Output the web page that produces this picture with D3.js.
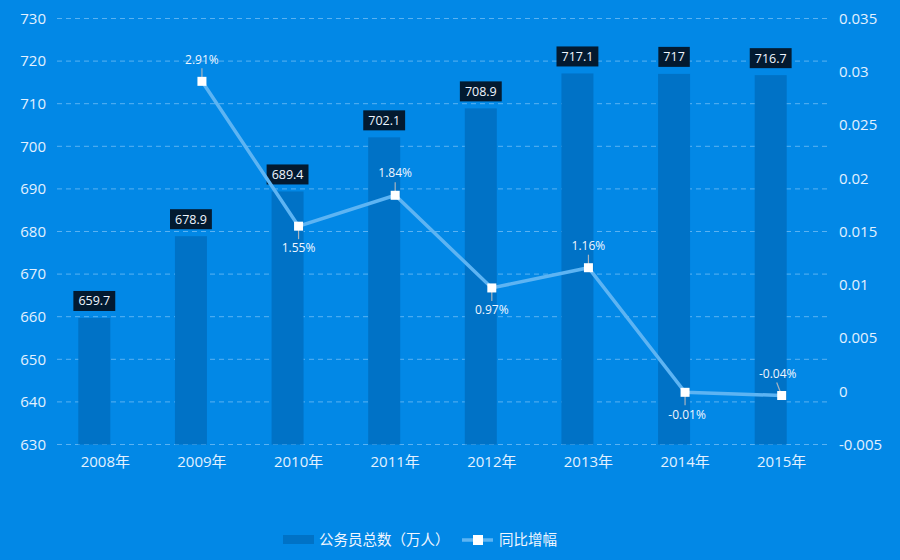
<!DOCTYPE html>
<html lang="zh">
<head>
<meta charset="UTF-8">
<title>公务员总数</title>
<script src="https://d3js.org/d3.v7.min.js"></script>
<style>
  body { margin: 0; background: #0288e6; }
  svg { display: block; font-family: "Open Sans", "Noto Sans CJK SC", sans-serif; }
  .grid line { stroke: #5ab2f2; stroke-dasharray: 5,4; stroke-width: 1; }
  .tick text { fill: #e3f1ff; font-size: 15px; font-family: "Open Sans", "Noto Sans CJK SC", sans-serif; }
</style>
</head>
<body>
<div id="chart"></div>
<script>
  const years = ["2008年", "2009年", "2010年", "2011年", "2012年", "2013年", "2014年", "2015年"];
  const totals = [659.7, 678.9, 689.4, 702.1, 708.9, 717.1, 717, 716.7];
  const growth = [null, 0.0291, 0.0155, 0.0184, 0.0097, 0.0116, -0.0001, -0.0004];
  const growthLabels = [null, "2.91%", "1.55%", "1.84%", "0.97%", "1.16%", "-0.01%", "-0.04%"];
  const leftTicks = [630, 640, 650, 660, 670, 680, 690, 700, 710, 720, 730];
  const rightTicks = [-0.005, 0, 0.005, 0.01, 0.015, 0.02, 0.025, 0.03, 0.035];
  // label above (-1) or below (1) the point
  const labelSide = [0, -1, 1, -1, 1, -1, 1, -1];

  const width = 900, height = 560;
  const margin = { top: 18.5, right: 70, bottom: 115.5, left: 57 };
  const innerW = width - margin.left - margin.right;
  const innerH = height - margin.top - margin.bottom;

  const svg = d3.select("#chart").append("svg")
    .attr("width", width)
    .attr("height", height);

  svg.append("rect").attr("width", width).attr("height", height).attr("fill", "#0288e6");

  const g = svg.append("g")
    .attr("transform", "translate(" + margin.left + "," + margin.top + ")");

  const x = d3.scaleBand().domain(years).range([0, innerW]);
  const yL = d3.scaleLinear().domain([630, 730]).range([innerH, 0]);
  const yR = d3.scaleLinear().domain([-0.005, 0.035]).range([innerH, 0]);

  // grid lines
  g.append("g")
    .attr("class", "grid")
    .selectAll("line")
    .data(leftTicks)
    .enter().append("line")
    .attr("x1", 0)
    .attr("x2", innerW)
    .attr("y1", d => yL(d))
    .attr("y2", d => yL(d));

  // axes
  const axL = g.append("g")
    .call(d3.axisLeft(yL).tickValues(leftTicks).tickSize(0).tickPadding(11));
  axL.select(".domain").remove();

  const axR = g.append("g")
    .attr("transform", "translate(" + innerW + ",0)")
    .call(d3.axisRight(yR).tickValues(rightTicks).tickSize(0).tickPadding(9).tickFormat(d => String(+d.toFixed(3))));
  axR.select(".domain").remove();

  const axB = g.append("g")
    .attr("transform", "translate(0," + innerH + ")")
    .call(d3.axisBottom(x).tickSize(0).tickPadding(12));
  axB.select(".domain").remove();

  // bars (shifted left of the category centre)
  const barW = 32;
  const barOff = -27;
  g.selectAll(".bar")
    .data(totals)
    .enter().append("rect")
    .attr("class", "bar")
    .attr("x", (d, i) => x(years[i]) + x.bandwidth() / 2 + barOff)
    .attr("width", barW)
    .attr("y", d => yL(d))
    .attr("height", d => innerH - yL(d))
    .attr("fill", "#0072c6");

  // bar value labels
  const lab = g.selectAll(".barlab")
    .data(totals)
    .enter().append("g")
    .attr("transform", (d, i) => "translate(" + (x(years[i]) + x.bandwidth() / 2 + barOff + barW / 2) + "," + (yL(d) - 17) + ")");
  lab.append("text")
    .attr("text-anchor", "middle")
    .attr("dy", "0.35em")
    .attr("fill", "#f0f6ff")
    .attr("font-size", 12.5)
    .text(d => d)
    .each(function () {
      const b = this.getBBox();
      d3.select(this.parentNode).insert("rect", "text")
        .attr("x", b.x - 5)
        .attr("y", -10)
        .attr("width", b.width + 10)
        .attr("height", 20)
        .attr("fill", "#031a30");
    });

  // growth line
  const pts = growth.map((v, i) => ({ v, i })).filter(d => d.v !== null);
  const cx = d => x(years[d.i]) + x.bandwidth() / 2;

  g.append("path")
    .datum(pts)
    .attr("fill", "none")
    .attr("stroke", "#5db4f3")
    .attr("stroke-width", 3.5)
    .attr("d", d3.line().x(cx).y(d => yR(d.v)));

  // leader lines
  g.selectAll(".leader")
    .data(pts)
    .enter().append("line")
    .attr("x1", cx)
    .attr("x2", d => cx(d) + (d.i === 7 ? -5 : 0))
    .attr("y1", d => yR(d.v))
    .attr("y2", d => yR(d.v) + labelSide[d.i] * 13)
    .attr("stroke", "#a9b4bf")
    .attr("stroke-width", 1.2);

  g.selectAll(".marker")
    .data(pts)
    .enter().append("rect")
    .attr("x", d => cx(d) - 4.5)
    .attr("y", d => yR(d.v) - 4.5)
    .attr("width", 9)
    .attr("height", 9)
    .attr("fill", "#ffffff");

  g.selectAll(".glab")
    .data(pts)
    .enter().append("text")
    .attr("x", d => cx(d) + (d.i === 7 ? -4 : 0) + (d.i === 6 ? 2 : 0))
    .attr("y", d => yR(d.v) + labelSide[d.i] * 22)
    .attr("dy", "0.35em")
    .attr("text-anchor", "middle")
    .attr("fill", "#f0f6ff")
    .attr("font-size", 12)
    .text(d => growthLabels[d.i]);

  // legend
  const leg = svg.append("g").attr("transform", "translate(0,540)");
  leg.append("rect").attr("x", 283).attr("y", -5).attr("width", 31).attr("height", 9).attr("fill", "#0072c6");
  leg.append("text").attr("x", 319).attr("dy", "0.35em").attr("fill", "#f0f6ff").attr("font-size", 14.5)
    .text("公务员总数（万人）");
  leg.append("line").attr("x1", 462).attr("x2", 493).attr("stroke", "#5db4f3").attr("stroke-width", 3.5);
  leg.append("rect").attr("x", 473).attr("y", -5).attr("width", 10).attr("height", 10).attr("fill", "#ffffff");
  leg.append("text").attr("x", 499).attr("dy", "0.35em").attr("fill", "#f0f6ff").attr("font-size", 14.5)
    .text("同比增幅");
</script>
</body>
</html>
